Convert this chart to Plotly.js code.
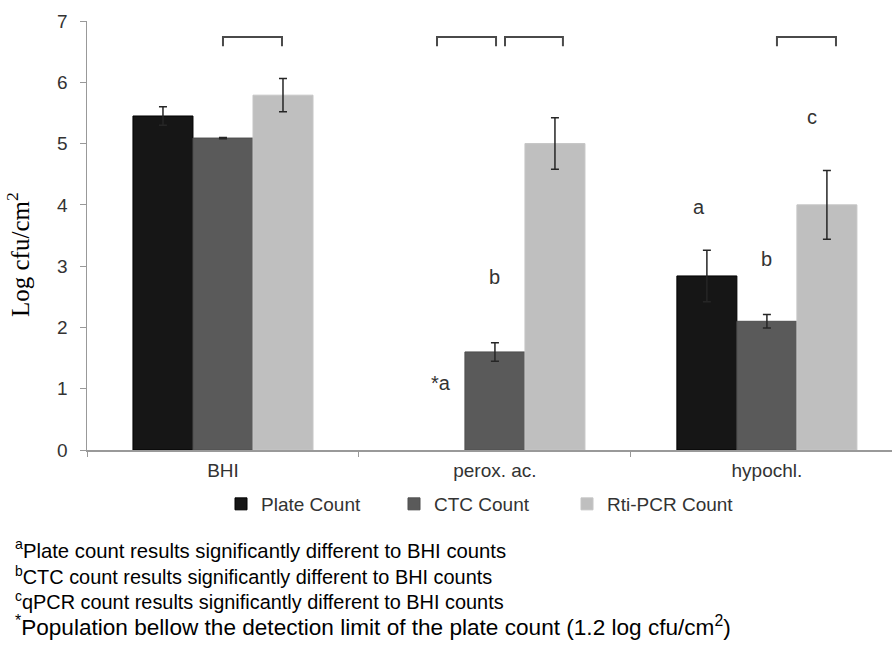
<!DOCTYPE html>
<html>
<head>
<meta charset="utf-8">
<script src="https://cdn.plot.ly/plotly-3.0.1.min.js"></script>
<style>html,body{margin:0;padding:0;background:#fff;}#chart{width:892px;height:650px;}</style>
</head>
<body>
<div id="chart"></div>
<script>
// ---- data ----
const categories = ["BHI", "perox. ac.", "hypochl."];
const seriesNames = ["Plate Count", "CTC Count", "Rti-PCR Count"];
const plateCount = [5.45, null, 2.84];
const plateErr   = [0.15, null, 0.42];
const ctcCount   = [5.09, 1.60, 2.10];
const ctcErr     = [0.01, 0.15, 0.11];
const rtiCount   = [5.79, 5.00, 4.00];
const rtiErr     = [0.27, 0.42, 0.56];
const yTicks     = [0, 1, 2, 3, 4, 5, 6, 7];
const footnotes = [
  "<sup>a</sup>Plate count results significantly different to BHI counts",
  "<sup>b</sup>CTC count results significantly different to BHI counts",
  "<sup>c</sup>qPCR count results significantly different to BHI counts",
  "<sup>*</sup>Population bellow the detection limit of the plate count (1.2 log cfu/cm<sup>2</sup>)"
];

// ---- geometry helpers (pixel layout of the figure) ----
const W = 892, H = 650, L = 87, T = 21, B = 200;
const plotW = W - L, plotH = H - T - B;
const px2paperX = p => (p - L) / plotW;
const px2paperY = p => (H - B - p) / plotH;

const font = "Liberation Sans, Arial, sans-serif";
const colors = ["#161616", "#5a5a5a", "#bfbfbf"];
const lines = ["#000000", "#4e4e4e", "#c6c6c6"];
const vals = [plateCount, ctcCount, rtiCount];
const errs = [plateErr, ctcErr, rtiErr];

const traces = vals.map((v, i) => ({
  type: "bar",
  name: seriesNames[i],
  x: categories,
  y: v,
  marker: {color: colors[i], line: {color: lines[i], width: 1}},
  error_y: {type: "data", array: errs[i], visible: true, color: "#262626", thickness: 1.5, width: 4},
  hoverinfo: "skip"
}));

const bracketColor = "#4a4a4a";
function bracket(x1, x2) {
  return {type: "path", xref: "x", yref: "y",
    path: `M ${x1},6.59 L ${x1},6.74 L ${x2},6.74 L ${x2},6.59`,
    line: {color: bracketColor, width: 2}};
}

const letterFont = {family: font, size: 20, color: "#333333"};
const letters = [
  {x: 0.80, y: 1.09, text: "*a"},
  {x: 1.00, y: 2.82, text: "b"},
  {x: 1.75, y: 3.96, text: "a"},
  {x: 2.00, y: 3.12, text: "b"},
  {x: 2.165, y: 5.43, text: "c"}
].map(a => ({xref: "x", yref: "y", x: a.x, y: a.y, text: a.text, showarrow: false,
             font: letterFont, xanchor: "center", yanchor: "middle"}));

const footY = [549, 575, 600, 626];
const footSize = [20.3, 19.9, 19.9, 22.6];
const footAnn = footnotes.map((t, i) => ({
  xref: "paper", yref: "paper", x: px2paperX(13), y: px2paperY(footY[i]),
  xanchor: "left", yanchor: "middle", showarrow: false, align: "left",
  text: t, font: {family: font, size: footSize[i], color: "#000000"}
}));

const yTitle = {
  xref: "paper", yref: "paper", x: px2paperX(18), y: px2paperY(255),
  xanchor: "center", yanchor: "middle", showarrow: false, textangle: -90,
  text: "Log cfu/cm<sup>2</sup>",
  font: {family: "Liberation Serif, Times New Roman, serif", size: 25, color: "#000000"}
};

const layout = {
  width: W, height: H,
  margin: {l: L, r: 0, t: T, b: B, pad: 0},
  paper_bgcolor: "#ffffff", plot_bgcolor: "#ffffff",
  barmode: "group", bargap: 0.338, bargroupgap: 0,
  font: {family: font, color: "#333333"},
  xaxis: {
    type: "category", range: [-0.5, 2.46], showgrid: false, zeroline: false,
    showline: true, linecolor: "#999999", linewidth: 1.5,
    ticks: "outside", tickson: "boundaries", ticklen: 5, tickcolor: "#999999",
    tickfont: {family: font, size: 19, color: "#333333"}, ticklabelstandoff: 3
  },
  yaxis: {
    range: [0, 7], tickvals: yTicks, showgrid: false, zeroline: false,
    showline: true, linecolor: "#999999", linewidth: 1.5,
    ticks: "outside", ticklen: 6, tickcolor: "#999999",
    tickfont: {family: font, size: 19, color: "#333333"}, ticklabelstandoff: 8
  },
  showlegend: true,
  legend: {
    orientation: "h", xref: "container", yref: "container",
    x: 221 / W, y: (H - 504) / H, xanchor: "left", yanchor: "middle",
    font: {family: font, size: 19, color: "#333333"},
    entrywidth: 128, entrywidthmode: "pixels", traceorder: "normal",
    bgcolor: "rgba(0,0,0,0)"
  },
  shapes: [bracket(0.0, 0.217), bracket(0.787, 1.004), bracket(1.037, 1.25), bracket(2.037, 2.254)],
  annotations: letters.concat(footAnn, [yTitle])
};

Plotly.newPlot("chart", traces, layout, {displayModeBar: false, staticPlot: true});
</script>
</body>
</html>
